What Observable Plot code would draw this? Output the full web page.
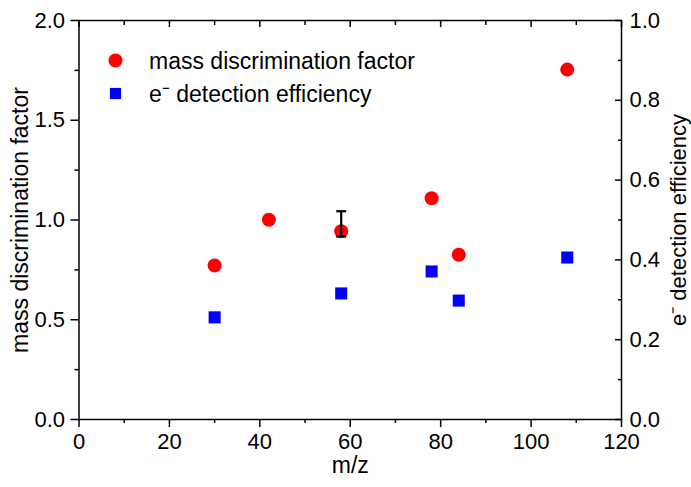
<!DOCTYPE html>
<html><head><meta charset="utf-8">
<script src="https://cdn.jsdelivr.net/npm/d3@7"></script>
<script src="https://cdn.jsdelivr.net/npm/@observablehq/plot@0.6"></script>
<style>
body{margin:0;background:#fff}
svg{font-family:"Liberation Sans",Arial,sans-serif}
</style>
</head><body><div id="chart"></div><script>
// ---- data ----
const mzMass = [30, 42, 58, 78, 84, 108];
const massFactor = [0.772, 1.001, 0.944, 1.109, 0.826, 1.754];
const errMz = [58];
const errLo = [0.917];
const errHi = [1.044];
const mzEff = [30, 58, 78, 84, 108];
const effValues = [0.256, 0.316, 0.371, 0.298, 0.406];

const xMajor = [0, 20, 40, 60, 80, 100, 120];
const xMinor = [10, 30, 50, 70, 90, 110];
const leftMajor = [0, 0.5, 1.0, 1.5, 2.0];
const leftMinor = [0.25, 0.75, 1.25, 1.75];
const rightMajor = [0, 0.2, 0.4, 0.6, 0.8, 1.0];
const rightMinor = [0.1, 0.3, 0.5, 0.7, 0.9];
const legendLabels = ["mass discrimination factor", "e\u207B detection efficiency"];
const axisLabels = {x: "m/z", left: "mass discrimination factor", right: "e\u207B detection efficiency"};

const leftMax = 2.0, rightMax = 1.0;
const ratio = leftMax / rightMax;

const massData = mzMass.map((x, i) => ({x, y: massFactor[i]}));
const effData = mzEff.map((x, i) => ({x, y: effValues[i]}));
const errData = errMz.map((x, i) => ({x, lo: errLo[i], hi: errHi[i]}));

const capSymbol = {draw(ctx, size) { const w = Math.sqrt(size) / 2; ctx.moveTo(-w, 0); ctx.lineTo(w, 0); }};
const f1 = d3.format(".1f");
const FS = 22;
const LS = 23;
const blank = () => "";

const chart = Plot.plot({
  width: 691, height: 487,
  marginLeft: 78.5, marginRight: 70, marginTop: 20, marginBottom: 68,
  style: {fontSize: FS + "px", fontFamily: "'Liberation Sans', Arial, sans-serif", color: "black", background: "white"},
  x: {domain: [0, 120]},
  y: {domain: [0, leftMax]},
  marks: [
    // bottom axis
    Plot.axisX({ticks: xMajor, tickSize: 8, tickPadding: 6, tickFormat: d => String(d), label: null, strokeWidth: 1.5, fontSize: FS}),
    Plot.axisX({ticks: xMinor, tickSize: 4, tickFormat: blank, label: null, strokeWidth: 1.5}),
    // top axis (inward)
    Plot.axisX({anchor: "top", ticks: xMajor, tickSize: -6, tickFormat: blank, label: null, strokeWidth: 1.5}),
    Plot.axisX({anchor: "top", ticks: xMinor, tickSize: -4, tickFormat: blank, label: null, strokeWidth: 1.5}),
    // left axis
    Plot.axisY({ticks: leftMajor, tickSize: 8, tickPadding: 6, tickFormat: f1, label: null, strokeWidth: 1.5, fontSize: FS}),
    Plot.axisY({ticks: leftMinor, tickSize: 4, tickFormat: blank, label: null, strokeWidth: 1.5}),
    // right axis (inward ticks)
    Plot.axisY({anchor: "right", ticks: rightMajor.map(t => t * ratio), tickSize: -7, tickFormat: blank, label: null, strokeWidth: 1.5}),
    Plot.axisY({anchor: "right", ticks: rightMinor.map(t => t * ratio), tickSize: -4, tickFormat: blank, label: null, strokeWidth: 1.5}),
    Plot.axisY({anchor: "right", ticks: rightMajor.map(t => t * ratio), tickSize: 0, tickPadding: 8, tickFormat: d => f1(d / ratio), label: null, fontSize: FS}),
    Plot.frame({stroke: "black", strokeWidth: 1.5}),
    // axis titles
    Plot.text([axisLabels.x], {text: d => d, frameAnchor: "bottom", dy: 46, textAnchor: "middle", lineAnchor: "middle", fontSize: LS, fill: "black"}),
    Plot.text([axisLabels.left], {text: d => d, frameAnchor: "left", dx: -58, rotate: -90, textAnchor: "middle", lineAnchor: "middle", fontSize: LS, fill: "black"}),
    Plot.text([axisLabels.right], {text: d => d, frameAnchor: "right", dx: 57, rotate: -90, textAnchor: "middle", lineAnchor: "middle", fontSize: 22, fill: "black"}),
    // data
    Plot.dot(effData, {x: "x", y: d => d.y * ratio, symbol: "square", r: 6.8, fill: "#0000ff", stroke: "none"}),
    Plot.dot(massData, {x: "x", y: "y", symbol: "circle", r: 7, fill: "#ff0000", stroke: "none"}),
    Plot.ruleX(errData, {x: "x", y1: "lo", y2: "hi", stroke: "black", strokeWidth: 2.2}),
    Plot.dot(errData, {x: "x", y: "lo", symbol: capSymbol, r: 5.6, stroke: "black", strokeWidth: 2.2, fill: "none"}),
    Plot.dot(errData, {x: "x", y: "hi", symbol: capSymbol, r: 5.6, stroke: "black", strokeWidth: 2.2, fill: "none"}),
    // legend
    Plot.dot([0], {frameAnchor: "top-left", dx: 36.5, dy: 40, symbol: "circle", r: 7, fill: "#ff0000", stroke: "none"}),
    Plot.dot([0], {frameAnchor: "top-left", dx: 36.5, dy: 73, symbol: "square", r: 6.3, fill: "#0000ff", stroke: "none"}),
    Plot.text([legendLabels[0]], {text: d => d, frameAnchor: "top-left", dx: 70, dy: 41, textAnchor: "start", lineAnchor: "middle", fontSize: LS, fill: "black"}),
    Plot.text([legendLabels[1]], {text: d => d, frameAnchor: "top-left", dx: 70, dy: 74, textAnchor: "start", lineAnchor: "middle", fontSize: LS, fill: "black"})
  ]
});
document.getElementById("chart").appendChild(chart);
</script></body></html>
